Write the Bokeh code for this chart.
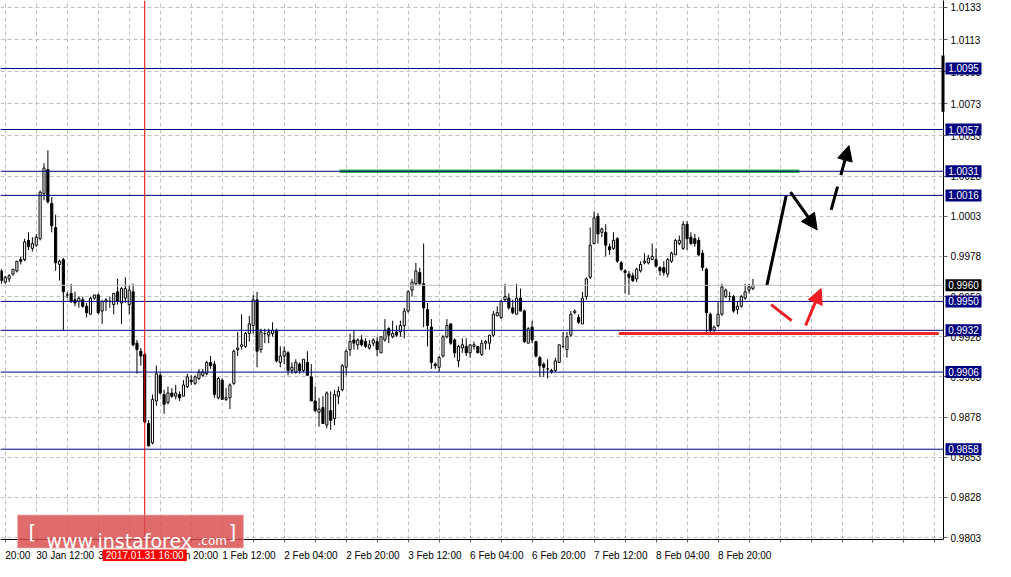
from bokeh.plotting import figure
from bokeh.layouts import column
from bokeh.models import (Range1d, FixedTicker, PrintfTickFormatter, Span, Arrow,
                          NormalHead, ColumnDataSource)
from bokeh.core.properties import value
from bokeh.embed import file_html
from bokeh.resources import INLINE

# ---------------- data (hourly candles) ----------------
opens = [0.9969,0.9962,0.9964,0.9967,0.9969,0.9976,0.9976,0.9988,0.9983,0.9985,
         0.9989,1.0017,1.0032,1.0011,0.9996,0.9973,0.9976,0.9954,0.9955,0.9951,
         0.9950,0.9951,0.9947,0.9942,0.9952,0.9954,0.9944,0.9950,0.9950,0.9948,
         0.9956,0.9949,0.9952,0.9948,0.9956,0.9924,0.9919,0.9917,0.9874,0.9862,
         0.9888,0.9904,0.9892,0.9887,0.9893,0.9891,0.9892,0.9891,0.9897,0.9901,
         0.9899,0.9902,0.9904,0.9905,0.9912,0.9911,0.9890,0.9901,0.9889,0.9890,
         0.9899,0.9920,0.9922,0.9922,0.9930,0.9935,0.9951,0.9920,0.9930,0.9929,
         0.9930,0.9932,0.9912,0.9916,0.9918,0.9907,
         0.9906,0.9911,0.9907,0.9912,0.9903,0.9888,0.9881,0.9884,0.9873,0.9882,
         0.9877,0.9891,0.9895,0.9909,0.9920,0.9926,0.9923,0.9926,0.9925,0.9921,
         0.9924,0.9925,0.9918,0.9926,0.9933,0.9928,0.9931,0.9931,0.9935,0.9944,
         0.9957,0.9961,0.9968,0.9961,
         0.9945,0.9934,0.9911,0.9909,0.9916,0.9928,0.9936,0.9926,0.9913,0.9921,
         0.9922,0.9918,0.9922,0.9922,0.9917,0.9924,0.9924,0.9929,0.9941,0.9940,
         0.9951,0.9952,0.9946,0.9942,0.9952,0.9944,0.9924,0.9934,0.9925,0.9915,
         0.9911,0.9908,0.9907,0.9907,0.9912,0.9922,0.9920,0.9929,0.9943,0.9940,
         0.9936,0.9953,0.9965,0.9986,1.0003,0.9993,
         0.9993,0.9984,0.9983,0.9989,0.9974,0.9969,0.9967,0.9966,0.9964,0.9969,
         0.9974,0.9974,0.9976,0.9976,0.9971,0.9971,0.9967,0.9975,0.9979,0.9986,
         0.9983,0.9998,0.9990,0.9989,0.9988,0.9980,0.9970,0.9942,0.9932,0.9935,
         0.9942,0.9953,0.9953,0.9953,0.9945,0.9947,0.9952,0.9957,0.9958]
highs = [0.9970,0.9966,0.9967,0.9970,0.9975,0.9978,0.9989,0.9993,0.9990,0.9992,
         1.0019,1.0036,1.0044,1.0015,1.0004,0.9976,0.9977,0.9956,0.9961,0.9956,
         0.9953,0.9953,0.9949,0.9953,0.9954,0.9955,0.9951,0.9952,0.9953,0.9955,
         0.9964,0.9959,0.9965,0.9960,0.9961,0.9926,0.9921,0.9918,0.9876,0.9892,
         0.9910,0.9906,0.9895,0.9897,0.9896,0.9898,0.9894,0.9901,0.9905,0.9904,
         0.9904,0.9908,0.9908,0.9913,0.9916,0.9913,0.9903,0.9902,0.9896,0.9899,
         0.9920,0.9931,0.9942,0.9931,0.9941,0.9954,0.9956,0.9933,0.9933,0.9933,
         0.9937,0.9933,0.9922,0.9922,0.9919,0.9912,
         0.9914,0.9912,0.9914,0.9919,0.9911,0.9897,0.9890,0.9891,0.9894,0.9894,
         0.9895,0.9897,0.9911,0.9920,0.9930,0.9932,0.9927,0.9929,0.9927,0.9926,
         0.9927,0.9928,0.9928,0.9939,0.9934,0.9938,0.9935,0.9938,0.9946,0.9957,
         0.9964,0.9974,0.9971,0.9986,
         0.9949,0.9939,0.9912,0.9916,0.9929,0.9939,0.9936,0.9927,0.9923,0.9927,
         0.9927,0.9923,0.9925,0.9922,0.9926,0.9926,0.9929,0.9944,0.9947,0.9951,
         0.9961,0.9955,0.9951,0.9961,0.9958,0.9945,0.9934,0.9938,0.9925,0.9916,
         0.9912,0.9914,0.9908,0.9915,0.9923,0.9931,0.9931,0.9944,0.9945,0.9942,
         0.9956,0.9965,0.9996,1.0006,1.0005,0.9996,
         0.9998,0.9986,0.9993,0.9990,0.9975,0.9970,0.9969,0.9968,0.9971,0.9975,
         0.9980,0.9979,0.9986,0.9983,0.9972,0.9975,0.9977,0.9981,0.9989,0.9991,
         1.0000,1.0000,0.9993,0.9992,0.9990,0.9982,0.9971,0.9943,0.9935,0.9950,
         0.9961,0.9958,0.9956,0.9954,0.9950,0.9954,0.9961,0.9961,0.9964]
lows = [0.9961,0.9961,0.9962,0.9966,0.9968,0.9973,0.9975,0.9982,0.9981,0.9984,
        0.9988,1.0013,1.0011,0.9993,0.9969,0.9963,0.9932,0.9952,0.9949,0.9947,
        0.9946,0.9946,0.9940,0.9942,0.9951,0.9942,0.9936,0.9944,0.9946,0.9942,
        0.9948,0.9936,0.9949,0.9942,0.9922,0.9905,0.9910,0.9874,0.9860,0.9861,
        0.9885,0.9892,0.9880,0.9886,0.9890,0.9889,0.9888,0.9891,0.9896,0.9898,
        0.9898,0.9901,0.9903,0.9904,0.9908,0.9890,0.9889,0.9889,0.9888,0.9883,
        0.9898,0.9916,0.9920,0.9921,0.9925,0.9930,0.9909,0.9918,0.9924,0.9924,
        0.9928,0.9912,0.9909,0.9911,0.9904,0.9905,
        0.9905,0.9905,0.9906,0.9904,0.9888,0.9881,0.9872,0.9874,0.9871,0.9870,
        0.9873,0.9886,0.9894,0.9904,0.9916,0.9920,0.9920,0.9922,0.9921,0.9920,
        0.9922,0.9916,0.9918,0.9925,0.9924,0.9927,0.9928,0.9928,0.9927,0.9943,
        0.9953,0.9960,0.9960,0.9934,
        0.9922,0.9908,0.9908,0.9906,0.9915,0.9927,0.9923,0.9915,0.9909,0.9918,
        0.9916,0.9915,0.9920,0.9918,0.9916,0.9920,0.9920,0.9928,0.9941,0.9939,
        0.9950,0.9945,0.9942,0.9942,0.9944,0.9924,0.9924,0.9924,0.9915,0.9903,
        0.9903,0.9902,0.9905,0.9906,0.9912,0.9921,0.9915,0.9928,0.9942,0.9936,
        0.9936,0.9951,0.9964,0.9986,0.9986,0.9990,
        0.9978,0.9979,0.9982,0.9974,0.9969,0.9955,0.9954,0.9962,0.9962,0.9968,
        0.9973,0.9973,0.9976,0.9971,0.9966,0.9966,0.9965,0.9974,0.9979,0.9985,
        0.9982,0.9982,0.9985,0.9984,0.9978,0.9969,0.9931,0.9931,0.9930,0.9934,
        0.9941,0.9952,0.9950,0.9943,0.9942,0.9946,0.9951,0.9955,0.9957]
closes = [0.9963,0.9965,0.9966,0.9970,0.9975,0.9975,0.9987,0.9984,0.9986,0.9990,
          1.0018,1.0033,1.0012,0.9997,0.9974,0.9975,0.9956,0.9954,0.9950,0.9949,
          0.9952,0.9947,0.9943,0.9952,0.9954,0.9943,0.9950,0.9951,0.9950,0.9955,
          0.9950,0.9958,0.9958,0.9957,0.9923,0.9920,0.9916,0.9875,0.9860,0.9889,
          0.9905,0.9893,0.9886,0.9893,0.9891,0.9893,0.9890,0.9898,0.9903,0.9900,
          0.9903,0.9906,0.9906,0.9912,0.9910,0.9892,0.9902,0.9889,0.9890,0.9898,
          0.9919,0.9921,0.9923,0.9930,0.9936,0.9951,0.9919,0.9931,0.9930,0.9931,
          0.9932,0.9913,0.9916,0.9919,0.9907,0.9909,
          0.9912,0.9907,0.9914,0.9904,0.9888,0.9882,0.9883,0.9874,0.9893,0.9876,
          0.9892,0.9894,0.9910,0.9919,0.9925,0.9924,0.9926,0.9923,0.9922,0.9923,
          0.9926,0.9920,0.9928,0.9932,0.9929,0.9930,0.9929,0.9935,0.9944,0.9956,
          0.9962,0.9969,0.9961,0.9946,
          0.9935,0.9912,0.9910,0.9915,0.9928,0.9935,0.9924,0.9918,0.9922,0.9923,
          0.9918,0.9923,0.9923,0.9918,0.9924,0.9925,0.9929,0.9942,0.9943,0.9950,
          0.9953,0.9946,0.9943,0.9952,0.9944,0.9925,0.9933,0.9926,0.9916,0.9910,
          0.9909,0.9908,0.9906,0.9913,0.9923,0.9922,0.9928,0.9942,0.9944,0.9937,
          0.9952,0.9964,0.9985,1.0002,0.9992,0.9995,
          0.9985,0.9982,0.9988,0.9975,0.9970,0.9968,0.9965,0.9963,0.9970,0.9973,
          0.9975,0.9977,0.9978,0.9972,0.9969,0.9968,0.9976,0.9980,0.9988,0.9988,
          0.9998,0.9989,0.9986,0.9986,0.9979,0.9971,0.9943,0.9932,0.9934,0.9942,
          0.9959,0.9957,0.9953,0.9944,0.9947,0.9953,0.9956,0.9959,0.9960]

levels = [1.0095, 1.0057, 1.0031, 1.0016, 0.9950, 0.9932, 0.9906, 0.9858]
current_price = 0.9960
y_ticks = [1.0133, 1.0113, 1.0093, 1.0073, 1.0053, 1.0028, 1.0003, 0.9978,
           0.9953, 0.9928, 0.9903, 0.9878, 0.9853, 0.9828, 0.9803]
x_grid_bars = list(range(1, 244, 8))
x_tick_labels = {1: "20:00", 9: "30 Jan 12:00", 25: "31 Jan 04:00", 41: "31 Jan 20:00",
                 57: "1 Feb 12:00", 73: "2 Feb 04:00", 89: "2 Feb 20:00", 105: "3 Feb 12:00",
                 121: "6 Feb 04:00", 137: "6 Feb 20:00", 153: "7 Feb 12:00",
                 169: "8 Feb 04:00", 185: "8 Feb 20:00"}
cursor_bar = 37
cursor_label = "2017.01.31 16:00"
scale_marker = (1.0068, 1.0103)

# analysis drawings (bar index, price)
green_zone = ([87.3, 206.0], 1.0031)
red_zone = ([159.4, 242.0], 0.9930)
black_leg = ([197.6, 202.6], [0.9960, 1.0016])
black_arrow = (203.7, 1.0018, 210.6, 0.99945)
dash_arrow = (214.2, 1.0007, 218.8, 1.0047)
red_leg = ([198.7, 204.0], [0.9948, 0.9938])
red_arrow = (207.6, 0.9935, 211.6, 0.9958)

# ---------------- geometry ----------------
W, H = 995, 561
RB, BB = 52, 22
FW, FH = W - RB, H - BB
X0, X1 = -0.23, 243.2
Y0, Y1 = 0.98018, 1.01373
kx = (X1 - X0) / FW
ky = (Y1 - Y0) / FH
def px2x(px):
    return X0 + px * kx
def py2y(py):
    return Y1 - py * ky

FONT = "Liberation Sans"

# ---------------- main chart ----------------
p = figure(width=W, height=H, x_range=Range1d(X0, X1), y_range=Range1d(Y0, Y1),
           output_backend="svg", toolbar_location=None,
           x_axis_location="below", y_axis_location="right",
           min_border_left=0, min_border_top=0, min_border_right=RB, min_border_bottom=BB)
p.outline_line_color = None
p.background_fill_color = "white"
p.border_fill_color = "white"

ya = p.yaxis[0]
ya.ticker = FixedTicker(ticks=y_ticks)
ya.formatter = PrintfTickFormatter(format="%.4f")
ya.axis_line_color = "black"
ya.major_tick_line_color = "#606060"
ya.major_tick_out = 4
ya.major_tick_in = 0
ya.minor_tick_line_color = None
ya.major_label_standoff = 3
ya.major_label_text_font = FONT
ya.major_label_text_font_size = "10px"
ya.major_label_text_color = "black"

# time axis: tick marks from the axis; its labels are set left-aligned on the ticks (see overlay)
xa = p.xaxis[0]
xa.ticker = FixedTicker(ticks=x_grid_bars)
xa.major_label_overrides = {b: "" for b in x_grid_bars}
xa.axis_line_color = "black"
xa.major_tick_line_color = "#606060"
xa.major_tick_out = 3
xa.major_tick_in = 0
xa.minor_tick_line_color = None
xa.major_label_text_font_size = "10px"

p.xgrid.ticker = FixedTicker(ticks=x_grid_bars)
p.ygrid.ticker = FixedTicker(ticks=y_ticks)
for g in (p.xgrid[0], p.ygrid[0]):
    g.grid_line_color = "#c0c0c0"
    g.grid_line_dash = "4 3"
    g.grid_line_width = 1

p.add_layout(Span(location=current_price, dimension="width", line_color="#c0c0c0", line_width=1))
for lv in levels:
    p.add_layout(Span(location=lv, dimension="width", line_color="#000080", line_width=1))
p.add_layout(Span(location=cursor_bar, dimension="height", line_color="#e00000", line_width=1))

idx = list(range(len(opens)))
src = ColumnDataSource(dict(
    x=idx, o=opens, h=highs, l=lows, c=closes,
    top=[max(o, c) for o, c in zip(opens, closes)],
    bot=[min(o, c) for o, c in zip(opens, closes)],
    fill=["white" if c >= o else "black" for o, c in zip(opens, closes)]))
p.segment(x0="x", y0="h", x1="x", y1="l", source=src, line_color="black", line_width=1)
p.vbar(x="x", width=0.55, top="top", bottom="bot", source=src,
       fill_color="fill", line_color="black", line_width=1)

p.line(green_zone[0], [green_zone[1]] * 2, line_color="#3cb44a", line_width=3.5)
p.line(red_zone[0], [red_zone[1]] * 2, line_color="#ee2b2b", line_width=3)
p.line(black_leg[0], black_leg[1], line_color="black", line_width=3)
p.line(red_leg[0], red_leg[1], line_color="#ee1c25", line_width=3)
p.add_layout(Arrow(x_start=black_arrow[0], y_start=black_arrow[1], x_end=black_arrow[2], y_end=black_arrow[3],
                   line_color="black", line_width=3,
                   end=NormalHead(size=16, fill_color="black", line_color="black")))
p.add_layout(Arrow(x_start=dash_arrow[0], y_start=dash_arrow[1], x_end=dash_arrow[2], y_end=dash_arrow[3],
                   line_color="black", line_width=3, line_dash="24 12",
                   end=NormalHead(size=15, fill_color="black", line_color="black")))
p.add_layout(Arrow(x_start=red_arrow[0], y_start=red_arrow[1], x_end=red_arrow[2], y_end=red_arrow[3],
                   line_color="#ee1c25", line_width=3,
                   end=NormalHead(size=15, fill_color="#ee1c25", line_color="#ee1c25")))

# ---------------- transparent overlay: time labels, scale boxes, time box, watermark ----------------
ov = figure(frame_width=W, frame_height=H, x_range=Range1d(X0, px2x(W)), y_range=Range1d(py2y(H), Y1),
            x_axis_type=None, y_axis_type=None, output_backend="svg", toolbar_location=None,
            min_border=0, min_border_left=0, min_border_right=0, min_border_top=0, min_border_bottom=0)
ov.outline_line_color = None
ov.background_fill_alpha = 0
ov.border_fill_alpha = 0

lab_bars = list(x_tick_labels.keys())
ov.text(x=lab_bars, y=[py2y(FH + 16)] * len(lab_bars), text=[x_tick_labels[b] for b in lab_bars],
        text_align="left", text_baseline="middle", text_color="black",
        text_font=value(FONT), text_font_size="10px")

box_x = px2x(FW + 20)
ov.rect(x=[box_x] * len(levels), y=levels, width=36, height=12, width_units="screen",
        height_units="screen", fill_color="#000080", line_color=None)
ov.text(x=[box_x] * len(levels), y=levels, text=[f"{v:.4f}" for v in levels],
        text_align="center", text_baseline="middle", text_color="white",
        text_font=value(FONT), text_font_size="10px")
ov.rect(x=[box_x], y=[current_price], width=36, height=12, width_units="screen",
        height_units="screen", fill_color="black", line_color=None)
ov.text(x=[box_x], y=[current_price], text=[f"{current_price:.4f}"],
        text_align="center", text_baseline="middle", text_color="white",
        text_font=value(FONT), text_font_size="10px")
ov.rect(x=[px2x(FW - 0.5)], y=[sum(scale_marker) / 2], width=3, width_units="screen",
        height=scale_marker[1] - scale_marker[0], fill_color="black", line_color=None)

ov.rect(x=[cursor_bar], y=[py2y(FH + 16)], width=84, height=12, width_units="screen",
        height_units="screen", fill_color="#ff0000", line_color=None)
ov.text(x=[cursor_bar], y=[py2y(FH + 16)], text=[cursor_label], text_align="center",
        text_baseline="middle", text_color="white", text_font=value(FONT), text_font_size="10px")

ov.rect(x=[px2x(130)], y=[py2y(FH - 8)], width=226, height=33, width_units="screen",
        height_units="screen", fill_color="#d94a4a", fill_alpha=0.82,
        line_color="#f2b0b0", line_alpha=0.7)
ov.text(x=[px2x(28)], y=[py2y(FH - 8)], text=["["], text_font=value("DejaVu Sans"),
        text_font_size="20px", text_color="white", text_baseline="middle")
ov.text(x=[px2x(46)], y=[py2y(FH + 1)], text=["www.instaforex"], text_font=value("DejaVu Sans"),
        text_font_size="19px", text_color="white", text_baseline="alphabetic")
ov.text(x=[px2x(197)], y=[py2y(FH + 1)], text=[".com"], text_font=value("DejaVu Sans"),
        text_font_size="12px", text_color="white", text_baseline="alphabetic")
ov.text(x=[px2x(228)], y=[py2y(FH - 8)], text=["]"], text_font=value("DejaVu Sans"),
        text_font_size="20px", text_color="white", text_baseline="middle")

layer = column(ov, margin=(-H, 0, 0, 0))
layout = column(p, layer)
open("out.html", "w").write(file_html(layout, INLINE))
